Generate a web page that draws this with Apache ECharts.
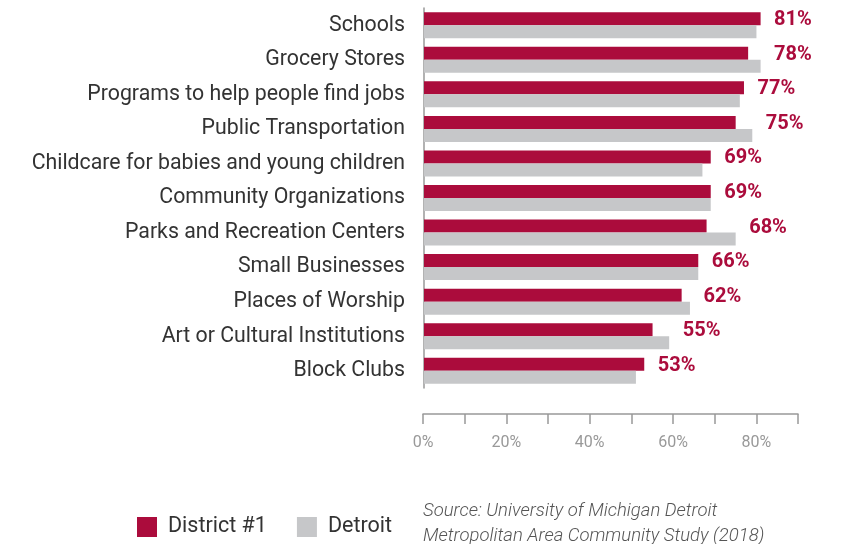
<!DOCTYPE html>
<html>
<head>
<meta charset="utf-8">
<script src="https://cdn.jsdelivr.net/npm/echarts@6/dist/echarts.min.js"></script>
<style>
  html, body { margin: 0; padding: 0; background: #fff; }
  #bar { width: 845px; height: 544px; }
</style>
</head>
<body>
<div id="bar"></div>
<script>
// data
var categories = ['Schools', 'Grocery Stores', 'Programs to help people find jobs', 'Public Transportation',
  'Childcare for babies and young children', 'Community Organizations', 'Parks and Recreation Centers',
  'Small Businesses', 'Places of Worship', 'Art or Cultural Institutions', 'Block Clubs'];
var district1 = [81, 78, 77, 75, 69, 69, 68, 66, 62, 55, 53];
var detroit = [80, 81, 76, 79, 67, 69, 75, 66, 64, 59, 51];
var tickValues = [0, 20, 40, 60, 80];

var red = '#ab0c3c';
var grey = '#c6c7c9';

// label sits just right of the longer bar of each row
var labelPos = district1.map(function (v, i) {
  return { value: [Math.max(v, detroit[i]), categories[i]], label: v };
});

var myChart = echarts.init(document.getElementById('bar'));

var option = {
  animation: false,
  textStyle: { fontFamily: 'Roboto' },
  grid: [
    { left: 424, right: 47, top: 8, bottom: 544 - 388 },
    { left: 423, right: 47, top: 400, bottom: 544 - 414 }
  ],
  legend: {
    data: ['District #1', 'Detroit'],
    left: 132,
    top: 511,
    itemWidth: 20,
    itemHeight: 20,
    itemGap: 30,
    icon: 'rect',
    textStyle: { fontSize: 21.5, color: '#333', fontFamily: 'Roboto', padding: [0, 0, 0, 6] }
  },
  xAxis: [
    { gridIndex: 0, type: 'value', min: 0, max: 90, show: false },
    {
      gridIndex: 1, type: 'value', min: 0, max: 90, interval: 10,
      splitLine: { show: false },
      axisLine: { show: true, lineStyle: { color: '#999', width: 1.5 } },
      axisTick: { show: true, length: 10, lineStyle: { color: '#999', width: 1.5 } },
      axisLabel: {
        color: '#999', fontSize: 16, margin: 21,
        formatter: function (v) { return tickValues.indexOf(v) >= 0 ? v + '%' : ''; }
      }
    }
  ],
  yAxis: [
    {
      gridIndex: 0, type: 'category', inverse: true, data: categories,
      axisLine: { show: true, lineStyle: { color: '#999', width: 1.5 } },
      axisTick: { show: false },
      axisLabel: { fontSize: 21.3, color: '#333', margin: 19 }
    },
    { gridIndex: 1, type: 'category', data: [''], show: false }
  ],
  series: [
    {
      name: 'District #1', type: 'bar', xAxisIndex: 0, yAxisIndex: 0,
      data: district1, barWidth: 13, barGap: '0%', color: red
    },
    {
      name: 'Detroit', type: 'bar', xAxisIndex: 0, yAxisIndex: 0,
      data: detroit, barWidth: 13, color: grey
    },
    {
      name: 'labels', type: 'scatter', xAxisIndex: 0, yAxisIndex: 0,
      symbolSize: 1, silent: true,
      itemStyle: { color: 'rgba(0,0,0,0)', opacity: 1 },
      data: labelPos,
      label: {
        show: true, position: 'right', distance: 13, offset: [0, -5],
        color: red, fontWeight: 'bold', fontSize: 20,
        fontFamily: 'Roboto',
        formatter: function (p) { return p.data.label + '%'; }
      }
    }
  ],
  graphic: [
    {
      type: 'text', left: 423, top: 499,
      style: {
        text: 'Source: University of Michigan Detroit\nMetropolitan Area Community Study (2018)',
        fill: '#555', font: 'italic 300 18.5px Roboto', lineHeight: 25
      }
    }
  ]
};

myChart.setOption(option);
</script>
</body>
</html>
